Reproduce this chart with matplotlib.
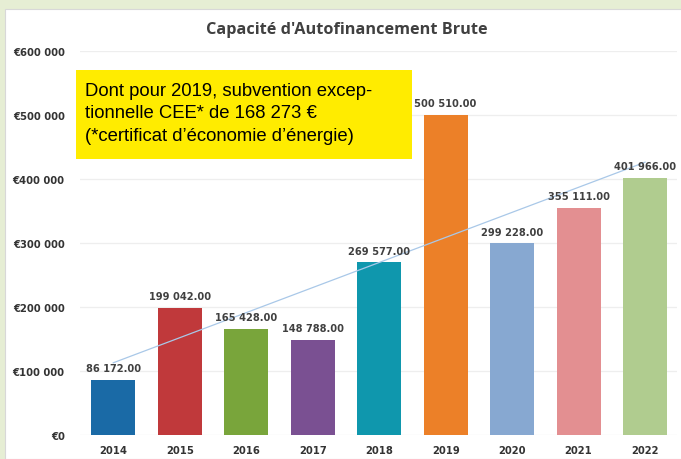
import numpy as np
import matplotlib
matplotlib.use("Agg")
import matplotlib.pyplot as plt
from matplotlib.patches import Rectangle

years = ["2014", "2015", "2016", "2017", "2018", "2019", "2020", "2021", "2022"]
caf = [86172, 199042, 165428, 148788, 269577, 500510, 299228, 355111, 401966]
colors = ["#1a6aa6", "#c0393b", "#79a53b", "#7a5092", "#0f97ad",
          "#ec8028", "#87a8d1", "#e38f91", "#b0cc8f"]
yticks = [0, 100000, 200000, 300000, 400000, 500000, 600000]
note = ("Dont pour 2019, subvention excep-\n"
        "tionnelle CEE* de 168 273 €\n"
        "(*certificat d’économie d’énergie)")

def fmt_val(v):
    return "{:,}".format(v).replace(",", " ") + ".00"

def fmt_tick(v):
    return "€" + "{:,}".format(v).replace(",", " ")

fig = plt.figure(figsize=(6.81, 4.60), dpi=100)
fig.patch.set_facecolor("#e6eed4")
# white panel, behind the axes
fig.add_artist(Rectangle((5 / 681, 0), 1, 1 - 10 / 460, transform=fig.transFigure,
                         facecolor="white", edgecolor="#d8d8d8", lw=0.8, zorder=-5))

ax = fig.add_axes([80 / 681, 24 / 460, (677 - 80) / 681, (436 - 52) / 460])
ax.set_facecolor("none")
x = np.arange(len(years))
ax.bar(x, caf, width=0.66, color=colors, zorder=2)

# linear trend line
k, b = np.polyfit(x, caf, 1)
ax.plot(x, k * x + b, color="#a9c8e8", lw=0.9, zorder=3)

for xi, v in zip(x, caf):
    ax.annotate(fmt_val(v), (xi, v), textcoords="offset points", xytext=(0, 5),
                ha="center", va="bottom", fontsize=7.1, fontweight="bold",
                color="#404040", family="DejaVu Sans", zorder=4)

ax.set_xlim(-0.5, 8.48)
ax.set_ylim(0, 600000)
ax.set_yticks(yticks)
ax.set_yticklabels([fmt_tick(t) for t in yticks])
ax.set_xticks(x)
ax.set_xticklabels(years)
ax.grid(axis="y", color="#eeeeee", lw=0.9, zorder=0)
for s in ax.spines.values():
    s.set_visible(False)
ax.tick_params(axis="both", length=0, colors="#333333")
ax.tick_params(axis="y", pad=11, labelsize=7.2)
ax.tick_params(axis="x", pad=7, labelsize=7.2)
for lab in ax.get_xticklabels() + ax.get_yticklabels():
    lab.set_fontweight("bold")

fig.text(347 / 681, 1 - 30 / 460, "Capacité d'Autofinancement Brute", ha="center",
         va="center", fontsize=11.7, fontweight="bold", color="#404040", family="Open Sans")

# yellow note box
fig.add_artist(Rectangle((76 / 681, 1 - 160 / 460), 336 / 681, 89 / 460,
                         transform=fig.transFigure, facecolor="#ffec00",
                         edgecolor="none", zorder=5))
fig.text(85 / 681, 1 - 114 / 460, note, ha="left", va="center", fontsize=13.3,
         family="Liberation Sans", color="black", linespacing=1.42, zorder=6)

fig.savefig("out.png", dpi=100, facecolor=fig.get_facecolor())
